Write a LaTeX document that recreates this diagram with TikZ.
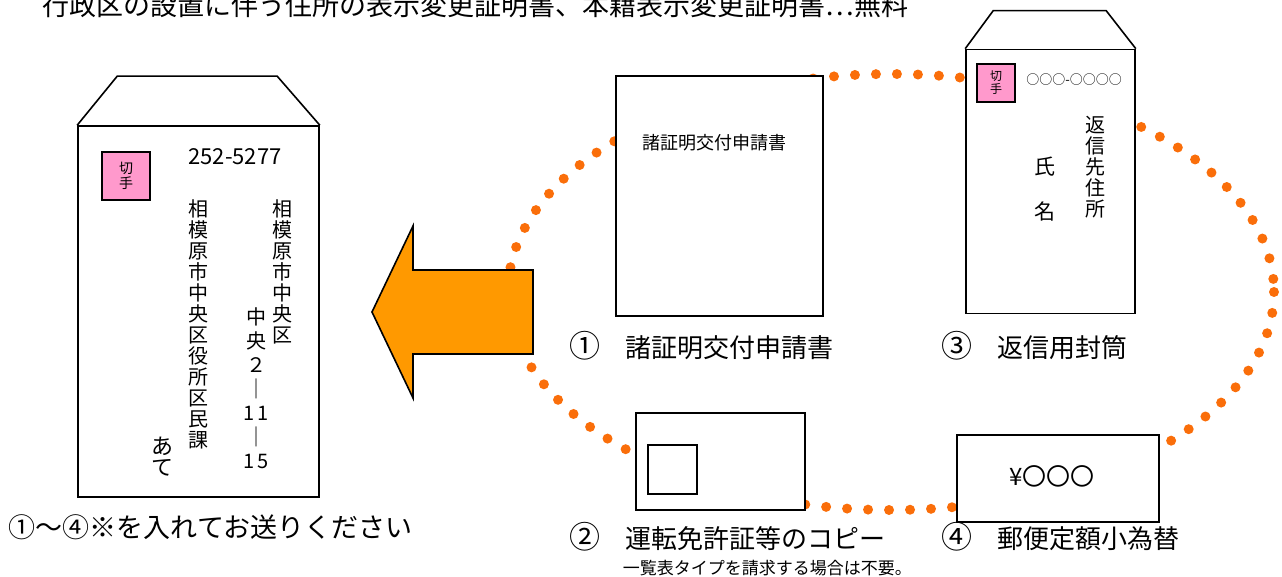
\documentclass[tikz,border=0pt]{standalone}
\usepackage{fontspec}
\setmainfont{Noto Sans CJK JP}
\usepackage{tikz}

\definecolor{dotorange}{RGB}{250,110,10}
\definecolor{arroworange}{RGB}{255,153,0}
\definecolor{stamppink}{RGB}{255,153,204}

\newcommand{\circnum}[1]{{\fontsize{31}{26}\selectfont #1}}

\begin{document}
\begin{tikzpicture}[x=1pt, y=-1pt,
	doc/.style={rectangle, draw=black, line width=1.6pt, fill=white, inner sep=0pt},
	stamp/.style={rectangle, draw=black, line width=1.6pt, fill=stamppink, inner sep=0pt, align=center, font=\fontsize{14}{15}\selectfont},
	tate/.style={align=center, inner sep=0pt, font=\fontsize{20}{21}\selectfont},
	lbl/.style={anchor=west, inner sep=0pt, font=\fontsize{26}{26}\selectfont},
	every path/.style={line width=1.6pt, line join=miter}]
			\useasboundingbox (0,0) rectangle (1282,577);
			
			\node[lbl, anchor=base west, font=\fontsize{27}{27}\selectfont] (title) at (42,16) {行政区の設置に伴う住所の表示変更証明書、本籍表示変更証明書…無料};
			
			% dotted ring behind the items
			\draw[dotorange, line width=10pt, line cap=round, dash pattern=on 0pt off 21pt] (891,292) ellipse [x radius=383, y radius=218];
			
			% left envelope
			\node[doc, minimum width=241pt, minimum height=371pt] (envL) at (198.5,311.5){};
			\draw (envL.north west) -- ++(40,-49) -- ++(160,0) -- (envL.north east);
			\node[stamp, minimum size=48pt] (stampL) at (126,176){切\\手};
			\node[inner sep=0pt, font=\fontsize{22}{22}\selectfont] (zipL) at (235,157){252-5277};
			\node[tate, anchor=north] (addrL) at (282,199){相\\模\\原\\市\\中\\央\\区};
			\node[tate, anchor=north, font=\fontsize{20}{24}\selectfont] (numL) at (256,307){中\\央\\２\\｜\\1\hspace{3pt}1\\｜\\1\hspace{3pt}5};
			\node[tate, anchor=north] (officeL) at (198,199){相\\模\\原\\市\\中\\央\\区\\役\\所\\区\\民\\課};
			\node[tate, anchor=north, font=\fontsize{22}{21}\selectfont] (ateL) at (162,436){あ\\て};
			
			\node[lbl, font=\fontsize{27}{27}\selectfont] (sendL) at (8,527){①～④※を入れてお送りください};
			
			% arrow
			\draw[fill=arroworange] (372,312) -- (413,226) -- (413,270) -- (533,270) -- (533,354) -- (413,354) -- (413,398) -- cycle;
			
			% 1 application form
			\node[doc, minimum width=207pt, minimum height=240pt] (form) at (719.5,196){};
			\node[inner sep=0pt, font=\fontsize{18}{18}\selectfont] (formT) at (714,143){諸証明交付申請書};
			\node[lbl] (l1) at (569,346){\circnum{①}\hspace{25pt}諸証明交付申請書};
			
			% 2 licence copy
			\node[doc, minimum width=169pt, minimum height=97pt] (card) at (720.5,461.5){};
			\node[doc, minimum size=49pt] (photo) at (672.5,469.5){};
			\node[lbl] (l2) at (569,537){\circnum{②}\hspace{25pt}運転免許証等のコピー};
			\node[lbl, font=\fontsize{17}{17}\selectfont] (note2) at (622,568){一覧表タイプを請求する場合は不要。};
			
			% 3 return envelope
			\node[doc, minimum width=169pt, minimum height=264pt] (envR) at (1050.5,181.5){};
			\draw (envR.north west) -- ++(28,-38) -- ++(113,0) -- (envR.north east);
			\node[stamp, minimum size=38pt, font=\fontsize{12}{13}\selectfont] (stampR) at (996,83){切\\手};
			\node[inner sep=0pt, font=\fontsize{13}{13}\selectfont] (zipR) at (1074,80){○○○-○○○○};
			\node[tate, anchor=north] (addrR) at (1095,115){返\\信\\先\\住\\所};
			\node[tate, anchor=north, font=\fontsize{21}{45}\selectfont] (nameR) at (1045,156){氏\\名};
			\node[lbl] (l3) at (941,346){\circnum{③}\hspace{25pt}返信用封筒};
			
			% 4 money order
			\node[doc, minimum width=202pt, minimum height=87pt] (order) at (1058,478.5){};
			\node[inner sep=0pt, font=\fontsize{24}{24}\selectfont] (orderT) at (1052,476){¥〇〇〇};
			\node[lbl] (l4) at (941,537){\circnum{④}\hspace{25pt}郵便定額小為替};
			\end{tikzpicture}
\end{document}
